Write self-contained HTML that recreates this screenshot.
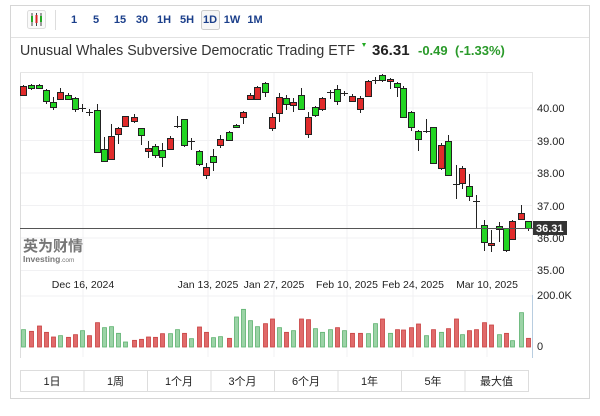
<!DOCTYPE html>
<html><head><meta charset="utf-8"><style>
body{margin:0;background:#fff;font-family:"Liberation Sans","Noto Sans CJK SC",sans-serif;}
</style></head><body>
<svg width="600" height="411" xmlns="http://www.w3.org/2000/svg" font-family="Liberation Sans, Noto Sans CJK SC, sans-serif">
<rect x="10.5" y="5.5" width="579" height="393" fill="#fff" stroke="#d6d6d6"/>
<line x1="11" y1="37.5" x2="589" y2="37.5" stroke="#e2e2e2"/>
<rect x="27.5" y="10.5" width="18" height="18" fill="#fafafa" stroke="#ddd" rx="2"/>
<line x1="32" y1="13" x2="32" y2="26" stroke="#444"/><rect x="31" y="16" width="2" height="6" fill="#2a2"/>
<line x1="36.5" y1="13" x2="36.5" y2="26" stroke="#444"/><rect x="35.5" y="15" width="2" height="8" fill="#d22"/>
<line x1="41" y1="13" x2="41" y2="26" stroke="#444"/><rect x="40" y="16" width="2" height="6" fill="#2a2"/>
<line x1="55.5" y1="10" x2="55.5" y2="30" stroke="#ddd"/>
<rect x="201.5" y="10.5" width="18" height="19" fill="#f6f6f6" stroke="#ccc" rx="2"/>
<g font-size="11" font-weight="bold" fill="#1b3f8b" text-anchor="middle">
<text x="74" y="23">1</text><text x="96" y="23">5</text><text x="120" y="23">15</text><text x="142" y="23">30</text><text x="164" y="23">1H</text><text x="187" y="23">5H</text><text x="210" y="23">1D</text><text x="232" y="23">1W</text><text x="255" y="23">1M</text>
</g>
<text x="20" y="55" font-size="15" fill="#333" textLength="335" lengthAdjust="spacingAndGlyphs">Unusual Whales Subversive Democratic Trading ETF</text>
<path d="M362 43 l4 0 l-2 4z" fill="#2a2"/>
<text x="372" y="55" font-size="15" font-weight="bold" fill="#222">36.31</text>
<text x="418" y="55" font-size="13" font-weight="bold" fill="#2a9a2a">-0.49</text>
<text x="455" y="55" font-size="13" font-weight="bold" fill="#2a9a2a">(-1.33%)</text>
<line x1="20.5" y1="72" x2="20.5" y2="358" stroke="#ddd"/>
<line x1="20" y1="72.5" x2="533" y2="72.5" stroke="#e6e6e6"/>
<line x1="532.5" y1="72" x2="532.5" y2="358" stroke="#e6e6e6"/>
<g stroke="#f1f1f3">
<line x1="21" y1="108" x2="532" y2="108"/><line x1="21" y1="140.5" x2="532" y2="140.5"/><line x1="21" y1="173" x2="532" y2="173"/><line x1="21" y1="205.5" x2="532" y2="205.5"/><line x1="21" y1="238" x2="532" y2="238"/><line x1="21" y1="270.5" x2="532" y2="270.5"/><line x1="21" y1="296" x2="532" y2="296"/>
<line x1="83" y1="73" x2="83" y2="357"/><line x1="208" y1="73" x2="208" y2="357"/><line x1="274" y1="73" x2="274" y2="357"/><line x1="347" y1="73" x2="347" y2="357"/><line x1="413" y1="73" x2="413" y2="357"/><line x1="487" y1="73" x2="487" y2="357"/>
</g>
<line x1="532.5" y1="295" x2="532.5" y2="358" stroke="#b8cde0"/>
<text x="23" y="251" font-size="15" font-weight="bold" fill="#777">英为财情</text>
<text x="23" y="262" font-size="8.5" font-weight="bold" fill="#777">Investing<tspan font-weight="normal" font-size="6.5">.com</tspan></text>
<g font-size="11" fill="#222">
<text x="537" y="112">40.00</text><text x="537" y="145">39.00</text><text x="537" y="177">38.00</text><text x="537" y="210">37.00</text><text x="537" y="242">36.00</text><text x="537" y="274">35.00</text>
<text x="537" y="299">200.0K</text><text x="537" y="350">0</text>
</g>
<g font-size="10.5" fill="#222" text-anchor="middle">
<text x="83" y="288">Dec 16, 2024</text><text x="208" y="288">Jan 13, 2025</text><text x="274" y="288">Jan 27, 2025</text><text x="347" y="288">Feb 10, 2025</text><text x="413" y="288">Feb 24, 2025</text><text x="487" y="288">Mar 10, 2025</text>
</g>
<g id="c"></g>
<g id="v"></g>
<line x1="20" y1="228.5" x2="533" y2="228.5" stroke="#555"/>
<rect x="533" y="221" width="34" height="14" fill="#333"/>
<text x="536" y="232" font-size="11" font-weight="bold" fill="#fff">36.31</text>
<g id="b"></g>
</svg>
<script>
var C=[[23,85,96,86,95,'r'],[31,84,90,85,88,'g'],[39,84,89,85,88,'g'],[46,89,104,90,101,'g'],[53,97,110,102,107,'g'],[60,88,100,92,99,'r'],[68,93,100,95,99,'g'],[75,97,112,98,109,'g'],[82,104,112,108,108,'x'],[89,109,116,112,112,'x'],[97,104,153,110,152,'g'],[104,137,162,149,161,'g'],[111,124,160,136,159,'r'],[118,127,144,128,134,'r'],[125,116,127,116,126,'r'],[134,114,123,117,121,'r'],[141,128,145,128,135,'g'],[148,141,158,148,151,'r'],[155,144,158,146,155,'g'],[162,143,167,150,157,'g'],[170,136,150,138,149,'r'],[177,116,128,126,126,'x'],[184,119,147,119,145,'g'],[191,138,150,141,141,'x'],[199,150,166,151,164,'g'],[206,163,179,167,175,'r'],[213,149,171,156,162,'g'],[220,135,148,139,145,'r'],[229,131,141,132,140,'g'],[236,124,128,125,127,'g'],[243,111,124,112,117,'r'],[250,93,100,95,99,'r'],[257,86,100,87,99,'r'],[265,82,97,83,92,'g'],[272,113,131,117,128,'r'],[279,93,122,97,113,'r'],[286,95,110,98,104,'g'],[293,98,112,102,105,'r'],[301,88,110,95,109,'g'],[308,112,138,117,134,'r'],[315,106,117,107,115,'g'],[322,97,111,98,109,'r'],[330,90,99,92,92,'x'],[337,85,105,89,101,'g'],[344,91,96,93,93,'x'],[352,94,102,96,101,'r'],[360,96,113,98,109,'r'],[368,80,97,81,96,'r'],[375,77,84,80,80,'x'],[382,74,82,75,80,'g'],[390,78,89,79,81,'r'],[397,82,97,83,87,'g'],[403,86,118,88,117,'g'],[411,111,131,112,127,'g'],[418,130,151,131,139,'g'],[426,119,133,131,131,'x'],[433,127,164,127,163,'g'],[441,143,170,145,168,'r'],[448,135,176,141,175,'g'],[456,165,199,184,184,'x'],[462,166,189,168,183,'r'],[469,174,201,186,196,'g'],[476,195,228,201,201,'x'],[484,220,251,225,242,'g'],[491,230,252,243,245,'r'],[499,222,242,226,229,'g'],[506,228,252,228,250,'g'],[512,220,240,221,239,'r'],[521,205,220,213,219,'r'],[528,221,231,221,228,'g']];
var s='';C.forEach(function(c){s+='<line x1="'+(c[0]+.5)+'" y1="'+c[1]+'" x2="'+(c[0]+.5)+'" y2="'+c[2]+'" stroke="#222"/>';
if(c[5]=='x'){s+='<line x1="'+(c[0]-3)+'" y1="'+(c[3]+.5)+'" x2="'+(c[0]+4)+'" y2="'+(c[3]+.5)+'" stroke="#222"/>';}
else s+='<rect x="'+(c[0]-2.5)+'" y="'+(c[3]+.5)+'" width="6" height="'+Math.max(2,c[4]-c[3])+'" fill="'+(c[5]=='r'?'#e12b2b':'#22d422')+'" stroke="#222"/>';});
document.getElementById('c').innerHTML=s;
var T=[148,153,137,156,170,166,171,163,151,166,127,142,139,159,185,180,177,170,171,160,160,148,159,175,140,156,172,169,174,110,87,121,139,130,116,142,156,151,116,118,145,156,148,142,151,159,159,160,130,116,159,148,149,142,131,166,148,156,145,116,163,151,148,127,134,163,159,181,97,174];
var K='grrrrgrrgrrggggrrrrrggrgrrggrggggrrgrgrrgggrgrrggrgrrrrgrgrrgrrrrgrggr';
s='';T.forEach(function(t,i){var h=(200-t)/3,x=C[i][0];var g=K[i]=='g';
s+='<rect x="'+(x-1.5)+'" y="'+(347-h)+'" width="4" height="'+h+'" fill="'+(g?'#9bd3a6':'#e06a6a')+'" stroke="'+(g?'#5cb26e':'#c84040')+'" stroke-width="0.8"/>';});
document.getElementById('v').innerHTML=s;
var L=['1日','1周','1个月','3个月','6个月','1年','5年','最大值'];s='';
L.forEach(function(l,i){var x=20+i*63.5;s+='<rect x="'+(x+.5)+'" y="370.5" width="63.5" height="21" fill="#fff" stroke="#ddd"/><text x="'+(x+32)+'" y="385" font-size="11" text-anchor="middle" fill="#222">'+l+'</text>';});
document.getElementById('b').innerHTML=s;
</script>
</body></html>
